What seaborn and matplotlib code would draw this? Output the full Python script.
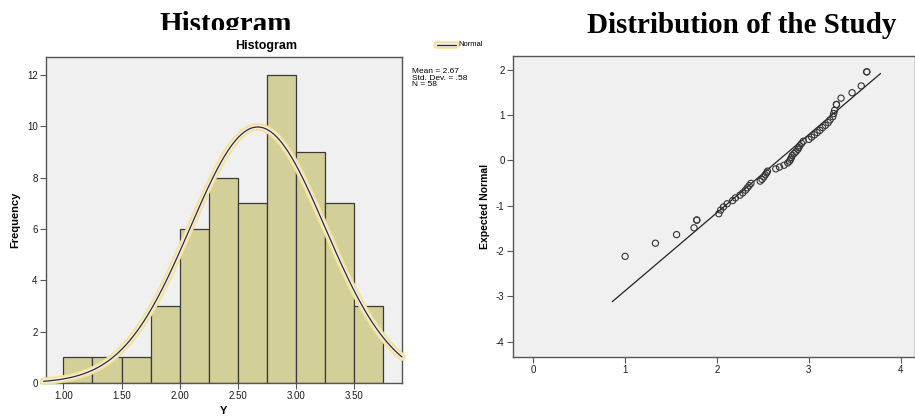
import numpy as np
import matplotlib
matplotlib.use("Agg")
import matplotlib.pyplot as plt
import seaborn as sns
from matplotlib.lines import Line2D
from matplotlib.patches import Rectangle
from matplotlib.ticker import FormatStrFormatter

# ---- data ----
# sorted observations of Y (N = 58)
y_values = [
    1.00, 1.33, 1.56, 1.75, 1.78, 1.78,
    2.02, 2.04, 2.07, 2.11, 2.17, 2.20,
    2.25, 2.28, 2.31, 2.33, 2.35, 2.37, 2.47, 2.49,
    2.51, 2.525, 2.54, 2.55, 2.64, 2.68, 2.73,
    2.77, 2.79, 2.80, 2.81, 2.82, 2.84, 2.86, 2.88, 2.89, 2.90, 2.92, 2.94,
    3.00, 3.03, 3.06, 3.09, 3.12, 3.15, 3.18, 3.21, 3.23,
    3.26, 3.27, 3.28, 3.30, 3.30, 3.35, 3.47,
    3.57, 3.63, 3.63,
]
# expected normal value of each observation (Q-Q plot, ties share a point)
expected_normal = [
    -2.12, -1.83, -1.64, -1.49, -1.32, -1.32,
    -1.18, -1.10, -1.03, -0.96, -0.89, -0.83,
    -0.77, -0.72, -0.66, -0.61, -0.56, -0.51, -0.46, -0.42,
    -0.37, -0.32, -0.28, -0.24, -0.19, -0.15, -0.11,
    -0.06, -0.02, 0.02, 0.06, 0.11, 0.15, 0.19, 0.24, 0.28, 0.32, 0.37, 0.42,
    0.46, 0.51, 0.56, 0.61, 0.66, 0.72, 0.77, 0.83, 0.89,
    0.96, 1.03, 1.10, 1.23, 1.23, 1.37, 1.49,
    1.64, 1.95, 1.95,
]
bin_edges = [1.00, 1.25, 1.50, 1.75, 2.00, 2.25, 2.50, 2.75, 3.00, 3.25, 3.50, 3.75]
hist_xticks = [1.0, 1.5, 2.0, 2.5, 3.0, 3.5]
hist_yticks = [0, 2, 4, 6, 8, 10, 12]
qq_xticks = [0, 1, 2, 3, 4]
qq_yticks = [-4, -3, -2, -1, 0, 1, 2]
mean_y, sd_y, n_y = 2.67, 0.58, 58

sns.set_style("white")
plt.rcParams['font.family'] = ['Liberation Sans', 'DejaVu Sans']
plt.rcParams['axes.unicode_minus'] = False
plt.rcParams['text.color'] = 'black'
plt.rcParams['axes.labelcolor'] = 'black'

bg = '#f0f0f0'
bar_color = '#d3cf98'
spine_c = '#555555'

fig = plt.figure(figsize=(9.15, 4.17), dpi=100)
W, H = 915, 417
ax1 = fig.add_axes([46 / W, (H - 383) / H, 356 / W, 326 / H])
ax2 = fig.add_axes([513 / W, (H - 357) / H, 402 / W, 301 / H])

# ---- histogram ----
sns.histplot(x=y_values, bins=bin_edges, color=bar_color, edgecolor='#3a3a3a',
             linewidth=0.9, alpha=1, ax=ax1)
ax1.set_xlim(0.851, 3.91)
ax1.set_ylim(0, 12.7)

# fitted normal curve, scaled to counts
xs = np.linspace(0.83, 3.91, 300)
ys = n_y * 0.25 * np.exp(-0.5 * ((xs - mean_y) / sd_y) ** 2) / (sd_y * np.sqrt(2 * np.pi))
ax1.plot(xs, ys, color='#f6e196', lw=5.5, solid_capstyle='round', clip_on=False, zorder=3)
ax1.plot(xs, ys, color='#f2efe2', lw=2.8, solid_capstyle='round', clip_on=False, zorder=3)
ax1.plot(xs, ys, color='#2a2a40', lw=0.9, clip_on=False, zorder=4)

ax1.set_xticks(hist_xticks)
ax1.set_yticks(hist_yticks)
ax1.xaxis.set_major_formatter(FormatStrFormatter('%.2f'))
ax1.set_xlabel('Y', fontsize=8, fontweight='bold', labelpad=3)
ax1.set_ylabel('Frequency', fontsize=8, fontweight='bold', labelpad=5)

# ---- Q-Q plot ----
sns.scatterplot(x=y_values, y=expected_normal, ax=ax2, marker='o', s=20,
                facecolor='none', edgecolor='#333333', linewidth=0.8, zorder=3)
line_x = np.array([0.86, 3.78])
ax2.plot(line_x, (line_x - mean_y) / sd_y, color='#222222', lw=0.9, zorder=2)
ax2.set_xlim(-0.22, 4.155)
ax2.set_ylim(-4.34, 2.3)
ax2.set_xticks(qq_xticks)
ax2.set_yticks(qq_yticks)
ax2.set_ylabel('Expected Normal', fontsize=7.5, fontweight='bold', labelpad=4)

for ax in (ax1, ax2):
    ax.set_facecolor(bg)
    for s in ax.spines.values():
        s.set_visible(True)
        s.set_color(spine_c)
        s.set_linewidth(1.0)
    ax.tick_params(direction='out', length=4, width=0.8, color=spine_c,
                   labelsize=7, labelcolor='#1a1a1a', pad=2,
                   left=True, bottom=True)

# ---- text ----
fig.text(160 / W, (H - 32) / H, 'Histogram', family=['Liberation Serif'],
         fontsize=21, fontweight='bold', ha='left', va='baseline', color='black')
# the reference has the top title cut off just above the baseline
fig.add_artist(Rectangle((150 / W, (H - 38) / H), 160 / W, 8 / H,
                         transform=fig.transFigure, facecolor='white',
                         edgecolor='none', zorder=5))
fig.text(587 / W, (H - 33) / H, 'Distribution of the Study', family=['Liberation Serif'],
         fontsize=21, fontweight='bold', ha='left', va='baseline', color='black')
fig.text(266 / W, (H - 46) / H, 'Histogram', fontsize=9, fontweight='bold',
         ha='center', va='center', zorder=6, color='black')

# legend swatch
lx = [437 / W, 456 / W]
ly = [(H - 45) / H] * 2
fig.add_artist(Line2D(lx, ly, color='#f6e196', lw=5.5, solid_capstyle='round', zorder=6))
fig.add_artist(Line2D(lx, ly, color='#f2efe2', lw=2.8, solid_capstyle='round', zorder=6))
fig.add_artist(Line2D(lx, ly, color='#2a2a40', lw=0.9, zorder=6))
fig.text(458 / W, (H - 45) / H, 'Normal', fontsize=5.5, ha='left', va='center', zorder=6)

fig.text(412 / W, (H - 68) / H, 'Mean = 2.67\nStd. Dev. = .58\nN = 58',
         fontsize=6, ha='left', va='top', linespacing=0.95)

fig.savefig('out.png', dpi=100)
